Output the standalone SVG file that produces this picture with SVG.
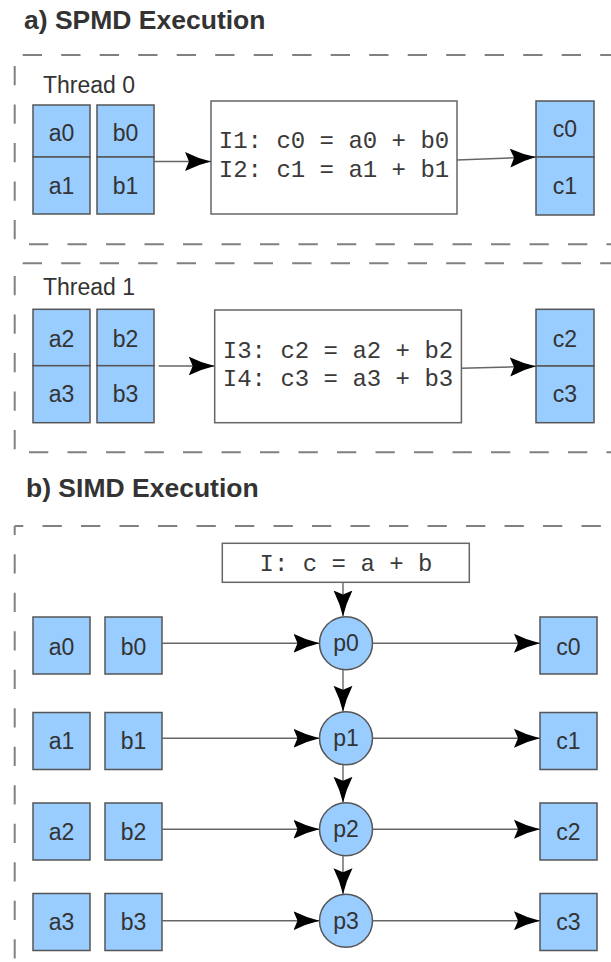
<svg xmlns="http://www.w3.org/2000/svg" width="611" height="962" viewBox="0 0 611 962">
<style>
.title{font-family:"Liberation Sans",Arial,sans-serif;font-weight:bold;font-size:26.5px;fill:#333}
.lbl{font-family:"Liberation Sans",Arial,sans-serif;font-size:23px;fill:#333}
.val{font-family:"Liberation Sans",Arial,sans-serif;font-size:23px;fill:#333;text-anchor:middle}
.code{font-family:"Liberation Mono","Courier New",monospace;font-size:24px;fill:#3a3a3a;text-anchor:middle}
.reg{fill:#99ccff;stroke:#555;stroke-width:1.5}
.instr{fill:#fff;stroke:#666;stroke-width:1.5}
.proc{fill:#99ccff;stroke:#555;stroke-width:1.5}
.dash{stroke:#808080;stroke-width:2;fill:none;stroke-dasharray:19.3 19.2}
.conn line{stroke:#666;stroke-width:1.4;marker-end:url(#ah)}
</style>
<defs>
<marker id="ah" markerUnits="userSpaceOnUse" markerWidth="28" markerHeight="22" viewBox="0 -11 28 22" refX="26" refY="0" orient="auto">
<path d="M0,-9.5 Q13,-3 26,0 Q13,3 0,9.5 L4,0 Z" fill="#000"/>
</marker>
</defs>

<!-- Section a -->
<text class="title" x="24" y="29">a) SPMD Execution</text>

<g id="thread0">
<line class="dash" x1="22.7" y1="55" x2="611" y2="55"/>
<line class="dash" x1="14.7" y1="66" x2="14.7" y2="244"/>
<line class="dash" x1="29" y1="244.3" x2="611" y2="244.3"/>
<text class="lbl" x="43" y="92.5">Thread 0</text>
</g>
<g id="a0a1">
<rect class="reg" x="33" y="105" width="57" height="52"/>
<rect class="reg" x="33" y="157" width="57" height="57"/>
<text class="val" x="61.5" y="141">a0</text>
<text class="val" x="61.5" y="194">a1</text>
</g>
<g id="b0b1">
<rect class="reg" x="97" y="105" width="57" height="52"/>
<rect class="reg" x="97" y="157" width="57" height="57"/>
<text class="val" x="125.5" y="141">b0</text>
<text class="val" x="125.5" y="194">b1</text>
</g>
<g id="instr01">
<rect class="instr" x="211" y="101" width="246" height="113"/>
<text class="code" x="334" y="148.3">I1: c0 = a0 + b0</text>
<text class="code" x="334" y="176.7">I2: c1 = a1 + b1</text>
</g>
<g id="c0c1">
<rect class="reg" x="536" y="101" width="58" height="56"/>
<rect class="reg" x="536" y="157" width="58" height="58"/>
<text class="val" x="565" y="137">c0</text>
<text class="val" x="565" y="193.5">c1</text>
</g>

<g id="thread1">
<line class="dash" x1="22.7" y1="263.3" x2="611" y2="263.3"/>
<line class="dash" x1="14.7" y1="276" x2="14.7" y2="452"/>
<line class="dash" x1="29" y1="452.3" x2="611" y2="452.3"/>
<text class="lbl" x="43" y="295">Thread 1</text>
</g>
<g id="a2a3">
<rect class="reg" x="33" y="309.3" width="57" height="56.4"/>
<rect class="reg" x="33" y="365.7" width="57" height="57"/>
<text class="val" x="61.5" y="347">a2</text>
<text class="val" x="61.5" y="402">a3</text>
</g>
<g id="b2b3">
<rect class="reg" x="97" y="309.3" width="57" height="56.4"/>
<rect class="reg" x="97" y="365.7" width="57" height="57"/>
<text class="val" x="125.5" y="347">b2</text>
<text class="val" x="125.5" y="402">b3</text>
</g>
<g id="instr23">
<rect class="instr" x="214.7" y="310" width="246.7" height="112.7"/>
<text class="code" x="338" y="358.3">I3: c2 = a2 + b2</text>
<text class="code" x="338" y="386">I4: c3 = a3 + b3</text>
</g>
<g id="c2c3">
<rect class="reg" x="536" y="309.3" width="58" height="56.7"/>
<rect class="reg" x="536" y="366" width="58" height="56.7"/>
<text class="val" x="565" y="347">c2</text>
<text class="val" x="565" y="402">c3</text>
</g>

<!-- Section b -->
<text class="title" x="26" y="497">b) SIMD Execution</text>
<g id="simd">
<line class="dash" x1="14.7" y1="526" x2="611" y2="526" stroke-dashoffset="10.7"/>
<line class="dash" x1="14.7" y1="526" x2="14.7" y2="962" stroke-dashoffset="10.3"/>
</g>
<g id="instr">
<rect class="instr" x="222.3" y="543.3" width="247" height="39"/>
<text class="code" x="346" y="570.7">I: c = a + b</text>
</g>

<g id="a0"><rect class="reg" x="33" y="617" width="57" height="57"/><text class="val" x="61.5" y="655">a0</text></g>
<g id="b0"><rect class="reg" x="105" y="617" width="57" height="57"/><text class="val" x="133.5" y="655">b0</text></g>
<g id="p0"><circle class="proc" cx="346" cy="643.3" r="26.5"/><text class="val" x="346" y="651">p0</text></g>
<g id="c0"><rect class="reg" x="540" y="617" width="57" height="57"/><text class="val" x="568.5" y="655">c0</text></g>

<g id="a1"><rect class="reg" x="33" y="712.5" width="57" height="57"/><text class="val" x="61.5" y="749">a1</text></g>
<g id="b1"><rect class="reg" x="105" y="712.5" width="57" height="57"/><text class="val" x="133.5" y="749">b1</text></g>
<g id="p1"><circle class="proc" cx="346" cy="738.3" r="26.5"/><text class="val" x="346" y="746">p1</text></g>
<g id="c1"><rect class="reg" x="540" y="712.5" width="57" height="57"/><text class="val" x="568.5" y="749">c1</text></g>

<g id="a2"><rect class="reg" x="33" y="803" width="57" height="57"/><text class="val" x="61.5" y="839.5">a2</text></g>
<g id="b2"><rect class="reg" x="105" y="803" width="57" height="57"/><text class="val" x="133.5" y="839.5">b2</text></g>
<g id="p2"><circle class="proc" cx="346" cy="829.3" r="26.5"/><text class="val" x="346" y="837">p2</text></g>
<g id="c2"><rect class="reg" x="540" y="803" width="57" height="57"/><text class="val" x="568.5" y="839.5">c2</text></g>

<g id="a3"><rect class="reg" x="33" y="893.5" width="57" height="57"/><text class="val" x="61.5" y="930">a3</text></g>
<g id="b3"><rect class="reg" x="105" y="893.5" width="57" height="57"/><text class="val" x="133.5" y="930">b3</text></g>
<g id="p3"><circle class="proc" cx="346" cy="920.7" r="26.5"/><text class="val" x="346" y="928.5">p3</text></g>
<g id="c3"><rect class="reg" x="540" y="893.5" width="57" height="57"/><text class="val" x="568.5" y="930">c3</text></g>

<g id="connectors" class="conn">
<line x1="154" y1="161.5" x2="211" y2="161.5"/>
<line x1="457" y1="160" x2="536" y2="157"/>
<line x1="158.7" y1="366" x2="214.7" y2="366"/>
<line x1="461.4" y1="368.3" x2="536" y2="366.3"/>
<line x1="343" y1="582.3" x2="343" y2="616.5"/>
<line x1="162" y1="643.3" x2="319.5" y2="643.3"/>
<line x1="372.5" y1="643.3" x2="540" y2="643.3"/>
<line x1="343" y1="669.8" x2="343" y2="711.8"/>
<line x1="162" y1="738.3" x2="319.5" y2="738.3"/>
<line x1="372.5" y1="738.3" x2="540" y2="738.3"/>
<line x1="343" y1="764.8" x2="343" y2="802.8"/>
<line x1="162" y1="829.3" x2="319.5" y2="829.3"/>
<line x1="372.5" y1="829.3" x2="540" y2="829.3"/>
<line x1="343" y1="855.8" x2="343" y2="894.2"/>
<line x1="162" y1="920.7" x2="319.5" y2="920.7"/>
<line x1="372.5" y1="920.7" x2="540" y2="920.7"/>
</g>
</svg>
